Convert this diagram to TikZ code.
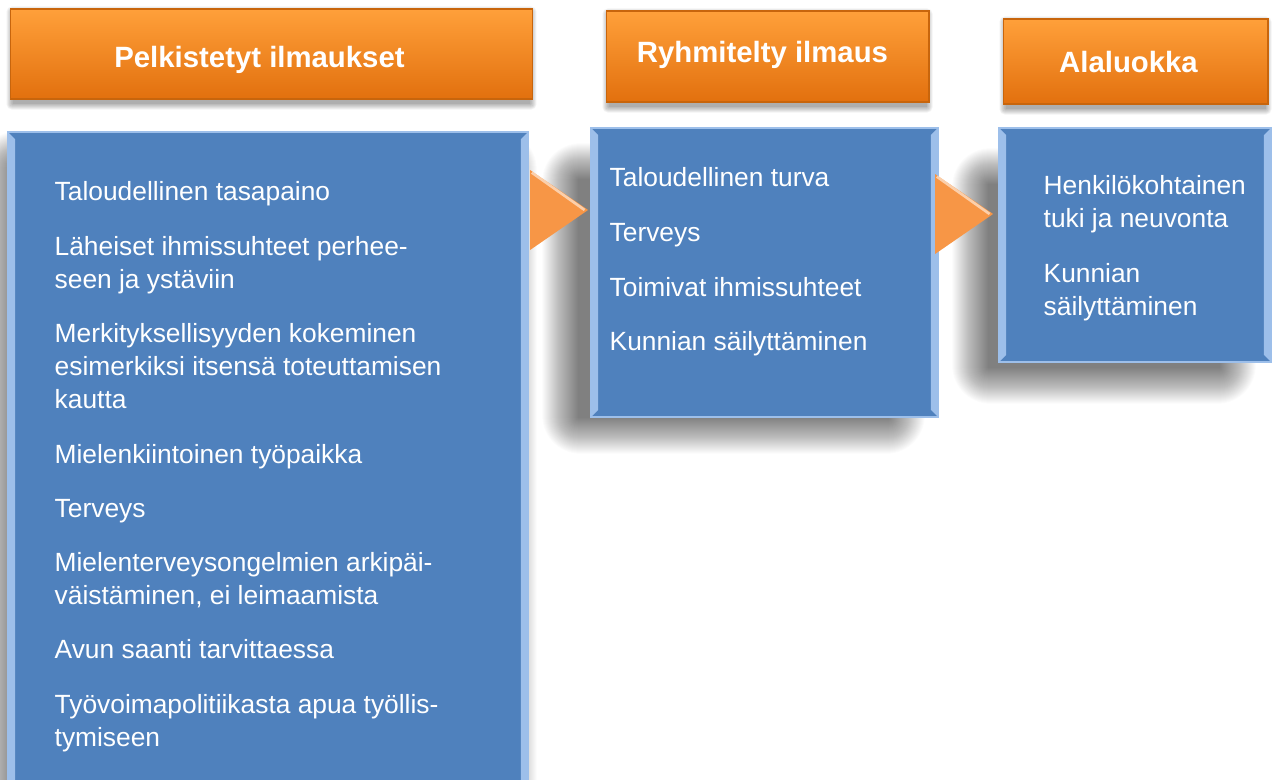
\documentclass[tikz,border=0pt]{standalone}
\usepackage{fontspec}
\setmainfont{Liberation Sans}
\usepackage{tikz}
\usetikzlibrary{positioning,shapes.geometric,backgrounds}
\definecolor{CatBlue}{HTML}{4F81BD}
\definecolor{CatBevel}{HTML}{9DBFEA}
\definecolor{CatOrangeTop}{HTML}{FFA03A}
\definecolor{CatOrangeBot}{HTML}{E2700E}
\definecolor{CatOrangeEdge}{HTML}{C8650C}
\definecolor{CatArrow}{HTML}{F79646}

\begin{document}
\begin{tikzpicture}[x=0.02cm,y=-0.02cm,
  head/.style={draw=CatOrangeEdge,line width=0.6pt,top color=CatOrangeTop,bottom color=CatOrangeBot,inner sep=0pt,text=white,text depth=0pt,font=\bfseries\fontsize{16.7}{19}\selectfont},
  panel/.style={draw=CatBevel,line width=0.8pt,fill=CatBlue,inner sep=0pt,
    path picture={
      \fill[CatBevel] (path picture bounding box.south west) -- ++(4pt,4pt) -- ([shift={(4pt,-4pt)}]path picture bounding box.north west) -- (path picture bounding box.north west) -- cycle;
      \fill[CatBevel] (path picture bounding box.south east) -- ++(-4pt,4pt) -- ([shift={(-4pt,-4pt)}]path picture bounding box.north east) -- (path picture bounding box.north east) -- cycle;
    }},
  haze/.style={black,opacity=0.016},
  items/.style={inner sep=0pt,align=left,text=white,font=\fontsize{15}{18.9}\selectfont},
  chevron/.style={isosceles triangle,isosceles triangle stretches,shape border rotate=0,minimum width=1.6cm,minimum height=1.16cm,inner sep=0pt,fill=CatArrow,
    path picture={\draw[white,opacity=0.55,line width=1.5pt] ([shift={(1pt,-1.5pt)}]path picture bounding box.north west) -- ([xshift=-2pt]path picture bounding box.east);}}
]
\clip (0,0) rectangle (1272,780);

% column headers
\node[head,text height=0.56cm,minimum width=10.46cm,minimum height=1.80cm] (reducedhead) at (271.5,54) {Pelkistetyt ilmaukset\hspace*{0.48cm}};
\node[head,text height=0.26cm,minimum width=6.46cm,minimum height=1.82cm] (groupedhead) at (767.5,56.5) {Ryhmitelty ilmaus\hspace*{0.2cm}};
\node[head,text height=0.46cm,minimum width=5.30cm,minimum height=1.70cm] (subcathead) at (1135.5,61.5) {Alaluokka\hspace*{0.28cm}};

% blue panels
\node[panel,minimum width=10.40cm,minimum height=13.56cm] (reduced) at (268,471) {};
\node[panel,minimum width=6.94cm,minimum height=5.78cm] (grouped) at (764.5,272.5) {};
\node[panel,minimum width=5.44cm,minimum height=4.68cm] (subcat) at (1135,245) {};

% soft shadows
\begin{scope}[on background layer]
  \fill[white] (0,0) rectangle (1272,780);
  \foreach \h in {reducedhead,groupedhead,subcathead}
    \foreach \k in {0,...,6}
      \fill[black,opacity=0.05,rounded corners={\k*0.5pt}] ([shift={(3-\k,4-\k)}]\h.north west) rectangle ([shift={(-3+\k,4+\k)}]\h.south east);
  \foreach \k in {0,...,36}{
    \fill[haze,rounded corners={\k*0.6pt}] ([shift={(8-\k,36-\k)}]reduced.north west) rectangle ([shift={(-28+\k,-10+\k)}]reduced.south east);
    \fill[haze,rounded corners={\k*0.6pt}] ([shift={(-12-\k,52-\k)}]grouped.north west) rectangle ([shift={(-50+\k,0+\k)}]grouped.south east);
    \fill[haze,rounded corners={\k*0.6pt}] ([shift={(-10-\k,57-\k)}]subcat.north west) rectangle ([shift={(-52+\k,5+\k)}]subcat.south east);
  }
\end{scope}

% chevrons between panels
\node[chevron,anchor=apex] (pass1) at (589,210) {};
\node[chevron,anchor=apex] (pass2) at (994,214) {};

\node[items,below right=1.0cm and 0.94cm of reduced.north west] (reducedlist) {Taloudellinen tasapaino\\[0.42cm]
  Läheiset ihmissuhteet perhee-\\seen ja ystäviin\\[0.42cm]
  Merkityksellisyyden kokeminen\\esimerkiksi itsensä toteuttamisen\\kautta\\[0.42cm]
  Mielenkiintoinen työpaikka\\[0.42cm]
  Terveys\\[0.42cm]
  Mielenterveysongelmien arkipäi-\\väistäminen, ei leimaamista\\[0.42cm]
  Avun saanti tarvittaessa\\[0.42cm]
  Työvoimapolitiikasta apua työllis-\\tymiseen};
\node[items,below right=0.80cm and 0.38cm of grouped.north west] (groupedlist) {Taloudellinen turva\\[0.43cm]
  Terveys\\[0.43cm]
  Toimivat ihmissuhteet\\[0.43cm]
  Kunnian säilyttäminen};
\node[items,below right=0.96cm and 0.90cm of subcat.north west] (subcatlist) {Henkilökohtainen\\tuki ja neuvonta\\[0.42cm]
  Kunnian\\säilyttäminen};
\end{tikzpicture}
\end{document}
